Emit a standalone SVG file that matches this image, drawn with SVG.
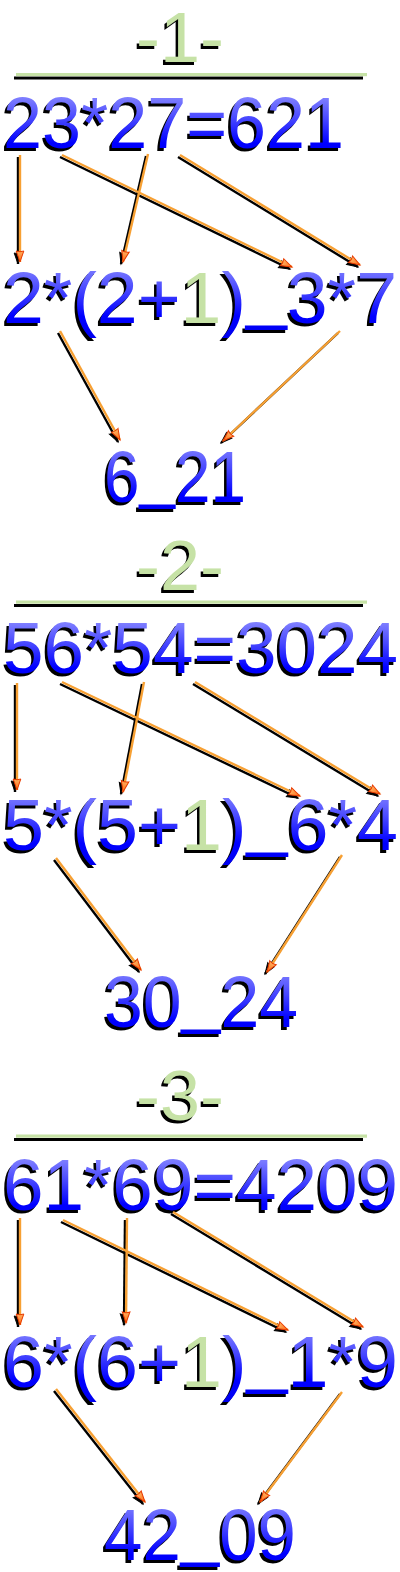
<svg xmlns="http://www.w3.org/2000/svg" width="400" height="1572" viewBox="0 0 400 1572">
<defs>
<linearGradient id="blue" x1="0" y1="0" x2="0" y2="1">
<stop offset="0" stop-color="#a8a8ff"/>
<stop offset="0.45" stop-color="#4848ff"/>
<stop offset="0.75" stop-color="#0000ff"/>
<stop offset="1" stop-color="#0000f0"/>
</linearGradient>
<linearGradient id="org" x1="0" y1="0" x2="1" y2="0">
<stop offset="0" stop-color="#ffb060"/>
<stop offset="1" stop-color="#ff6a10"/>
</linearGradient>
<marker id="ah" markerUnits="userSpaceOnUse" markerWidth="16" markerHeight="12" viewBox="-2 -6 16 12" refX="11" refY="0" orient="auto">
<path d="M0,-3.8 L11,0 L0,3.8 Q1.5,0 0,-3.8 Z" fill="url(#org)" stroke="#e83a00" stroke-width="1"/>
</marker>
<marker id="ahs" markerUnits="userSpaceOnUse" markerWidth="16" markerHeight="12" viewBox="-2 -6 16 12" refX="11" refY="0" orient="auto">
<path d="M0,-3.8 L11,0 L0,3.8 Q1.5,0 0,-3.8 Z" fill="#000" stroke="#000" stroke-width="1"/>
</marker>
<style>
.t{font-family:"Liberation Sans",Arial,sans-serif;font-size:73px}
.ti{font-size:71px}
.sh{fill:#000}
.bl{fill:url(#blue)}
.gr{fill:#c6e2a6}
.shl{stroke:#000;stroke-width:2.4;fill:none;marker-end:url(#ahs)}
.orl{stroke:#f7a033;stroke-width:2.4;fill:none;marker-end:url(#ah)}
</style>
</defs>
<rect width="400" height="1572" fill="#fff"/>

<!-- Section 1 -->
<g id="title1">
<text class="t ti sh" x="133.5" y="64.5" textLength="88" lengthAdjust="spacingAndGlyphs">-1-</text>
<text class="t ti gr" x="136" y="62" textLength="88" lengthAdjust="spacingAndGlyphs">-1-</text>
<rect x="14" y="76.5" width="349" height="3" fill="#000"/>
<rect x="16" y="73" width="351" height="3.2" class="gr"/>
</g>
<g id="eq1">
<text class="t sh" x="0.5" y="150.5" textLength="341" lengthAdjust="spacingAndGlyphs">23*27=621</text>
<text class="t bl" x="3" y="148" textLength="341" lengthAdjust="spacingAndGlyphs">23*27=621</text>
</g>
<g id="step1">
<text class="t sh" x="0.5" y="325.5" textLength="394" lengthAdjust="spacingAndGlyphs">2*(2+1)<tspan dy="-7">_</tspan><tspan dy="7">3*7</tspan></text>
<text class="t bl" x="3" y="323" textLength="394" lengthAdjust="spacingAndGlyphs">2*(2+<tspan class="gr">1</tspan>)<tspan dy="-7">_</tspan><tspan dy="7">3*7</tspan></text>
</g>
<g id="res1">
<text class="t sh" x="101.5" y="504.5" textLength="142" lengthAdjust="spacingAndGlyphs">6<tspan dy="-7">_</tspan><tspan dy="7">21</tspan></text>
<text class="t bl" x="104" y="502" textLength="142" lengthAdjust="spacingAndGlyphs">6<tspan dy="-7">_</tspan><tspan dy="7">21</tspan></text>
</g>

<!-- Section 2 -->
<g id="title2">
<text class="t ti sh" x="133.5" y="592.5" textLength="88" lengthAdjust="spacingAndGlyphs">-2-</text>
<text class="t ti gr" x="136" y="590" textLength="88" lengthAdjust="spacingAndGlyphs">-2-</text>
<rect x="14" y="604" width="349" height="3" fill="#000"/>
<rect x="16" y="600.5" width="351" height="3.2" class="gr"/>
</g>
<g id="eq2">
<text class="t sh" x="0.5" y="675.5" textLength="395" lengthAdjust="spacingAndGlyphs">56*54=3024</text>
<text class="t bl" x="3" y="673" textLength="395" lengthAdjust="spacingAndGlyphs">56*54=3024</text>
</g>
<g id="step2">
<text class="t sh" x="0.5" y="852.5" textLength="395" lengthAdjust="spacingAndGlyphs">5*(5+1)<tspan dy="-7">_</tspan><tspan dy="7">6*4</tspan></text>
<text class="t bl" x="3" y="850" textLength="395" lengthAdjust="spacingAndGlyphs">5*(5+<tspan class="gr">1</tspan>)<tspan dy="-7">_</tspan><tspan dy="7">6*4</tspan></text>
</g>
<g id="res2">
<text class="t sh" x="101.5" y="1029.5" textLength="194" lengthAdjust="spacingAndGlyphs">30<tspan dy="-7">_</tspan><tspan dy="7">24</tspan></text>
<text class="t bl" x="104" y="1027" textLength="194" lengthAdjust="spacingAndGlyphs">30<tspan dy="-7">_</tspan><tspan dy="7">24</tspan></text>
</g>

<!-- Section 3 -->
<g id="title3">
<text class="t ti sh" x="133.5" y="1122.5" textLength="88" lengthAdjust="spacingAndGlyphs">-3-</text>
<text class="t ti gr" x="136" y="1120" textLength="88" lengthAdjust="spacingAndGlyphs">-3-</text>
<rect x="14" y="1138" width="349" height="3" fill="#000"/>
<rect x="16" y="1134.5" width="351" height="3.2" class="gr"/>
</g>
<g id="eq3">
<text class="t sh" x="0.5" y="1212.5" textLength="395" lengthAdjust="spacingAndGlyphs">61*69=4209</text>
<text class="t bl" x="3" y="1210" textLength="395" lengthAdjust="spacingAndGlyphs">61*69=4209</text>
</g>
<g id="step3">
<text class="t sh" x="0.5" y="1389.5" textLength="395" lengthAdjust="spacingAndGlyphs">6*(6+1)<tspan dy="-7">_</tspan><tspan dy="7">1*9</tspan></text>
<text class="t bl" x="3" y="1387" textLength="395" lengthAdjust="spacingAndGlyphs">6*(6+<tspan class="gr">1</tspan>)<tspan dy="-7">_</tspan><tspan dy="7">1*9</tspan></text>
</g>
<g id="res3">
<text class="t sh" x="101.5" y="1562.5" textLength="192" lengthAdjust="spacingAndGlyphs">42<tspan dy="-7">_</tspan><tspan dy="7">09</tspan></text>
<text class="t bl" x="104" y="1560" textLength="192" lengthAdjust="spacingAndGlyphs">42<tspan dy="-7">_</tspan><tspan dy="7">09</tspan></text>
</g>

<g id="connectors">
<g transform="translate(-2,2)">
<path class="shl" d="M20,155 L20,262"/>
<path class="shl" d="M62,155 L292,267"/>
<path class="shl" d="M148,154 L123,262"/>
<path class="shl" d="M180,155 L360,265"/>
<path class="shl" d="M60,331 L120,440"/>
<path class="shl" d="M340,331 L223,441"/>
<path class="shl" d="M17,683 L17,790"/>
<path class="shl" d="M62,682 L300,796"/>
<path class="shl" d="M144,682 L123,792"/>
<path class="shl" d="M195,682 L380,794"/>
<path class="shl" d="M56,858 L141,970"/>
<path class="shl" d="M342,855 L267,972"/>
<path class="shl" d="M20,1218 L20,1325"/>
<path class="shl" d="M63,1220 L288,1330"/>
<path class="shl" d="M127,1218 L126,1323"/>
<path class="shl" d="M173,1212 L363,1327"/>
<path class="shl" d="M56,1389 L145,1502"/>
<path class="shl" d="M342,1392 L260,1502"/>
</g>
<g>
<path class="orl" d="M20,155 L20,262"/>
<path class="orl" d="M62,155 L292,267"/>
<path class="orl" d="M148,154 L123,262"/>
<path class="orl" d="M180,155 L360,265"/>
<path class="orl" d="M60,331 L120,440"/>
<path class="orl" d="M340,331 L223,441"/>
<path class="orl" d="M17,683 L17,790"/>
<path class="orl" d="M62,682 L300,796"/>
<path class="orl" d="M144,682 L123,792"/>
<path class="orl" d="M195,682 L380,794"/>
<path class="orl" d="M56,858 L141,970"/>
<path class="orl" d="M342,855 L267,972"/>
<path class="orl" d="M20,1218 L20,1325"/>
<path class="orl" d="M63,1220 L288,1330"/>
<path class="orl" d="M127,1218 L126,1323"/>
<path class="orl" d="M173,1212 L363,1327"/>
<path class="orl" d="M56,1389 L145,1502"/>
<path class="orl" d="M342,1392 L260,1502"/>
</g>
</g>
</svg>
